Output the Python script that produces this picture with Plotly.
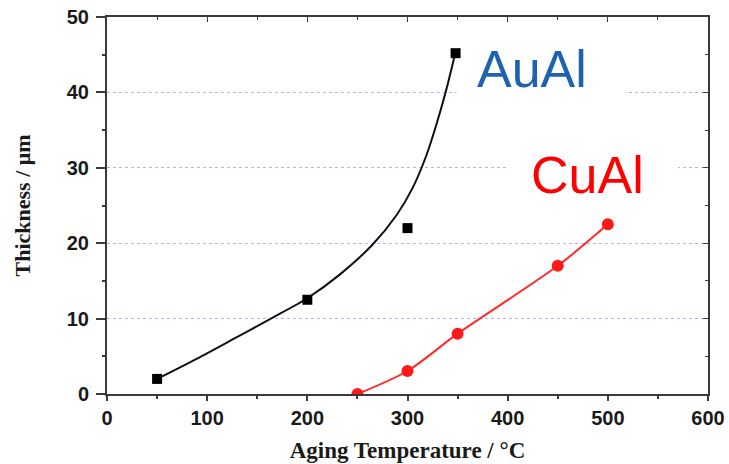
import plotly.graph_objects as go

# AuAl measured points
aual_temp = [50, 200, 300, 348]
aual_thick = [2.0, 12.5, 22.0, 45.2]
# AuAl fitted curve
aual_fit_temp = [50, 90, 125, 165, 200, 232, 265, 289, 305, 319, 329, 339, 347.5]
aual_fit_thick = [2.0, 4.7, 7.2, 10.1, 12.7, 15.8, 19.8, 23.7, 27.3, 31.7, 35.8, 40.5, 45.1]
# CuAl measured points
cual_temp = [250, 300, 350, 450, 500]
cual_thick = [0, 3.05, 8.0, 17.0, 22.5]

x_ticks = [0, 100, 200, 300, 400, 500, 600]
y_ticks = [0, 10, 20, 30, 40, 50]

tickfont = dict(family="Liberation Sans, Arial", size=20, color="#1a1a1a", weight="bold")
xtitlefont = dict(family="Liberation Serif, Times New Roman", size=23, color="#1a1a1a", weight="bold")
ytitlefont = dict(family="Liberation Serif, Times New Roman", size=22, color="#1a1a1a", weight="bold")
axcol = "#3a3a3a"

fig = go.Figure()
fig.add_trace(go.Scatter(x=aual_fit_temp, y=aual_fit_thick, mode="lines",
                         line=dict(color="#111111", width=2, shape="spline", smoothing=0.7),
                         hoverinfo="skip", showlegend=False))
fig.add_trace(go.Scatter(x=aual_temp, y=aual_thick, mode="markers",
                         marker=dict(symbol="square", size=10, color="black"),
                         showlegend=False))
fig.add_trace(go.Scatter(x=cual_temp, y=cual_thick, mode="lines+markers",
                         line=dict(color="#ff2a2a", width=2, shape="spline", smoothing=0.8),
                         marker=dict(symbol="circle", size=12, color="#ff1a1a"),
                         showlegend=False))
# invisible trace for mirrored inside-tick axes
fig.add_trace(go.Scatter(x=[None], y=[None], xaxis="x2", yaxis="y2", showlegend=False,
                         hoverinfo="skip"))

# white boxes behind labels (hide gridlines)
fig.add_shape(type="rect", x0=349, x1=517, y0=37, y1=43, fillcolor="white",
              line=dict(width=0), layer="between")
fig.add_shape(type="rect", x0=400, x1=570, y0=27, y1=33, fillcolor="white",
              line=dict(width=0), layer="between")

fig.add_annotation(x=424, y=43.1, text="AuAl", showarrow=False, xanchor="center",
                   yanchor="middle", font=dict(family="Liberation Sans, Arial", size=52, color="#1f63b0"))
fig.add_annotation(x=479.5, y=29.0, text="CuAl", showarrow=False, xanchor="center",
                   yanchor="middle", font=dict(family="Liberation Sans, Arial", size=52, color="#ff0000"))

fig.update_layout(
    width=729, height=464,
    margin=dict(l=107, r=21, t=17, b=70),
    paper_bgcolor="white", plot_bgcolor="white",
    xaxis=dict(range=[0, 600], tickvals=x_ticks, ticks="outside", ticklen=5, tickwidth=1.5,
               tickcolor=axcol, showline=True, linecolor=axcol, linewidth=2, mirror=True,
               showgrid=False, zeroline=False, tickfont=tickfont, automargin=False,
               ticklabeloverflow="allow",
               minor=dict(dtick=50, ticks="outside", ticklen=3, tickcolor=axcol),
               title=dict(text="Aging Temperature / °C", font=xtitlefont, standoff=14)),
    yaxis=dict(range=[0, 50], tickvals=y_ticks, ticks="outside", ticklen=9, tickwidth=1.5,
               tickcolor=axcol, showline=True, linecolor=axcol, linewidth=2, mirror=True,
               showgrid=True, gridcolor="#b4b4f8", griddash="dot", gridwidth=1.2,
               zeroline=False, tickfont=tickfont, automargin=False, ticklabelstandoff=3,
               ticklabeloverflow="allow",
               minor=dict(dtick=5, ticks="outside", ticklen=3, tickcolor=axcol, showgrid=False),
               title=dict(text="Thickness / μm", font=ytitlefont, standoff=30)),
    xaxis2=dict(overlaying="x", side="top", range=[0, 600], tickvals=x_ticks, ticks="inside",
                ticklen=5, tickcolor=axcol, showticklabels=False, showgrid=False, zeroline=False,
                automargin=False,
                minor=dict(dtick=50, ticks="inside", ticklen=3, tickcolor=axcol)),
    yaxis2=dict(overlaying="y", side="right", range=[0, 50], tickvals=y_ticks, ticks="inside",
                ticklen=5, tickcolor=axcol, showticklabels=False, showgrid=False, zeroline=False,
                automargin=False,
                minor=dict(dtick=5, ticks="inside", ticklen=3, tickcolor=axcol)),
)

fig.write_html("out.html", config={"displayModeBar": False},
               post_script="document.body.style.margin='0';document.body.style.overflow='hidden';")
